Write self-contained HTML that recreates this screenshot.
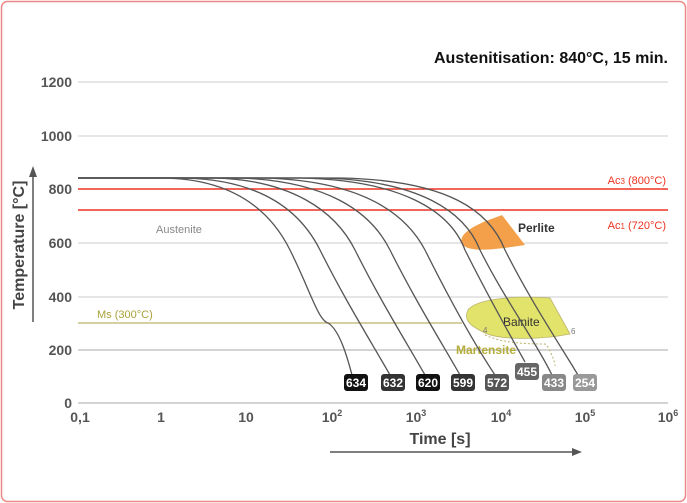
<!DOCTYPE html>
<html><head><meta charset="utf-8"><style>
html,body{margin:0;padding:0;background:#fff;}
svg{display:block;font-family:"Liberation Sans",sans-serif;}
</style></head><body>
<svg width="687" height="503" viewBox="0 0 687 503" xmlns="http://www.w3.org/2000/svg">
<rect x="1.5" y="1.5" width="684" height="500" rx="6" fill="#fff" stroke="#e88" stroke-width="1.5"/>
<text x="668" y="63" text-anchor="end" font-size="16" font-weight="bold" fill="#111">Austenitisation: 840°C, 15 min.</text>
<g stroke="#ccc" stroke-width="1">
<line x1="78" y1="82" x2="668" y2="82"/><line x1="78" y1="136" x2="668" y2="136"/>
<line x1="78" y1="243" x2="668" y2="243"/><line x1="78" y1="297" x2="668" y2="297"/>
<line x1="78" y1="350" x2="668" y2="350" stroke="#aaa"/><line x1="78" y1="403" x2="668" y2="403" stroke="#aaa"/>
</g>
<g font-size="14" fill="#555" text-anchor="end" font-weight="bold">
<text x="72" y="87">1200</text><text x="72" y="141">1000</text><text x="72" y="194">800</text>
<text x="72" y="248">600</text><text x="72" y="302">400</text><text x="72" y="355">200</text><text x="72" y="408">0</text>
</g>
<g font-size="14" fill="#555" text-anchor="middle" font-weight="bold">
<text x="80" y="422">0,1</text><text x="161" y="422">1</text><text x="246" y="422">10</text>
<text x="332" y="422">10<tspan font-size="9" dy="-6">2</tspan></text>
<text x="416" y="422">10<tspan font-size="9" dy="-6">3</tspan></text>
<text x="501" y="422">10<tspan font-size="9" dy="-6">4</tspan></text>
<text x="585" y="422">10<tspan font-size="9" dy="-6">5</tspan></text>
<text x="668" y="422">10<tspan font-size="9" dy="-6">6</tspan></text>
</g>
<text x="440" y="444" text-anchor="middle" font-size="16" font-weight="bold" fill="#444">Time [s]</text>
<line x1="330" y1="452" x2="575" y2="452" stroke="#555" stroke-width="1.5"/><path d="M582,452 L572,448 L572,456Z" fill="#555"/>
<text transform="translate(24,245) rotate(-90)" text-anchor="middle" font-size="16" font-weight="bold" fill="#444">Temperature [°C]</text>
<line x1="33" y1="322" x2="33" y2="175" stroke="#555" stroke-width="1.5"/><path d="M33,166 L29,177 L37,177Z" fill="#555"/>
<!-- phases -->
<path d="M469,230 C480,222 495,218 502,215 L525,245 C505,248 480,252 468,248 C458,244 460,236 469,230Z" fill="#f4a04a"/>
<text x="518" y="232" font-size="12" fill="#333" font-weight="bold">Perlite</text>
<path d="M468,310 C475,300 510,295 550,298 L570,334 C540,340 500,340 485,333 C475,328 462,322 468,310Z" fill="#e2e36a" stroke="#bbb36a" stroke-width="0.8"/>
<text x="503" y="326" font-size="12" fill="#333">Bainite</text>
<text x="483" y="333" font-size="8" fill="#777">4</text><text x="571" y="334" font-size="8" fill="#777">6</text>
<path d="M485,335 C500,342 520,344 545,344 L548,347 C552,355 555,362 555,366" fill="none" stroke="#bbb36a" stroke-width="1" stroke-dasharray="2,2"/>
<text x="456" y="354" font-size="12" fill="#b5ad3a" font-weight="bold">Martensite</text>
<!-- Ms, Ac lines -->
<line x1="78" y1="323" x2="462" y2="323" stroke="#bbb36a" stroke-width="1.3"/>
<text x="97" y="318" font-size="11" fill="#a9a23a">Ms (300°C)</text>
<line x1="78" y1="189" x2="668" y2="189" stroke="#e32" stroke-width="1.5"/>
<line x1="78" y1="210" x2="668" y2="210" stroke="#e32" stroke-width="1.5"/>
<text x="666" y="184" text-anchor="end" font-size="11" fill="#e32">Ac<tspan font-size="8">3</tspan> (800°C)</text>
<text x="666" y="229" text-anchor="end" font-size="11" fill="#e32">Ac<tspan font-size="8">1</tspan> (720°C)</text>
<text x="156" y="233" font-size="11" fill="#888">Austenite</text>
<!-- cooling curves -->
<g fill="none" stroke="#555" stroke-width="1.3">
<path d="M78,178 H160 C220,178 265,200 290,250 C310,290 318,320 328,323 C340,330 348,360 352,375"/>
<path d="M78,178 H185 C260,180 300,210 320,250 C345,300 370,340 390,375"/>
<path d="M78,178 H215 C290,180 335,210 355,250 C380,300 405,340 425,375"/>
<path d="M78,178 H240 C325,181 370,210 390,250 C415,300 440,340 460,375"/>
<path d="M78,178 H265 C360,181 405,212 425,250 C450,300 475,345 495,375"/>
<path d="M78,178 H300 C400,180 450,210 465,250 C490,300 510,335 525,362"/>
<path d="M78,178 H320 C420,180 465,212 480,250 C505,300 535,340 552,375"/>
<path d="M78,178 H340 C450,180 490,212 505,250 C530,300 560,345 578,375"/>
</g>
<g font-size="12" fill="#fff" text-anchor="middle" font-weight="bold">
<rect x="344" y="374" width="24" height="17" rx="3" fill="#111"/><text x="356" y="387">634</text>
<rect x="381" y="374" width="24" height="17" rx="3" fill="#333"/><text x="393" y="387">632</text>
<rect x="416" y="374" width="24" height="17" rx="3" fill="#111"/><text x="428" y="387">620</text>
<rect x="451" y="374" width="24" height="17" rx="3" fill="#333"/><text x="463" y="387">599</text>
<rect x="485" y="374" width="24" height="17" rx="3" fill="#555"/><text x="497" y="387">572</text>
<rect x="515" y="363" width="24" height="17" rx="3" fill="#666"/><text x="527" y="376">455</text>
<rect x="542" y="374" width="24" height="17" rx="3" fill="#888"/><text x="554" y="387">433</text>
<rect x="573" y="374" width="24" height="17" rx="3" fill="#999"/><text x="585" y="387">254</text>
</g>
</svg>
</body></html>
